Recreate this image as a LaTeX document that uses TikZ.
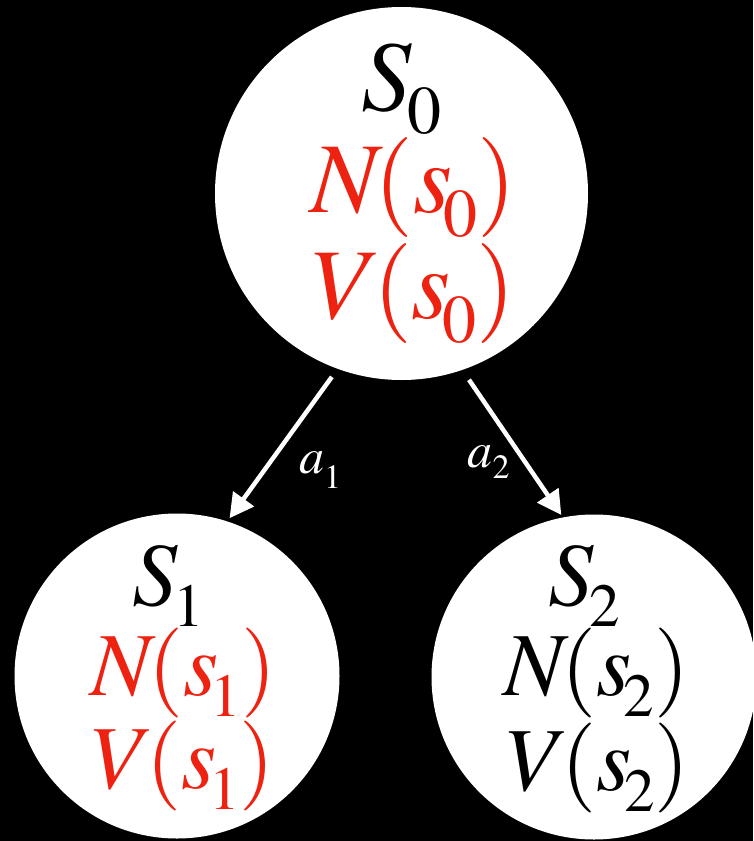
\documentclass[tikz,border=0pt]{standalone}
\usepackage{mathptmx}
\usetikzlibrary{arrows.meta}
\definecolor{kred}{RGB}{238,34,17}
\newcommand\subx[2][0.24]{\raisebox{-#1em}[0pt][0pt]{\scalebox{0.68}{$#2$}}}
\begin{document}
\begin{tikzpicture}[x=1pt,y=-1pt,
  state/.style={circle,fill=white,draw=none,inner sep=0pt,outer sep=0pt},
  big/.style={anchor=base,inner sep=0pt,font=\fontsize{100}{104}\selectfont},
  mid/.style={anchor=base,inner sep=0pt,font=\fontsize{90}{94}\selectfont},
  lab/.style={anchor=base,inner sep=0pt,text=white,font=\fontsize{50}{52}\selectfont},
  edge/.style={draw=white,line width=4.5pt,-{Triangle[length=24pt,width=25pt]}}]
\fill[black] (0,0) rectangle (753,841);
\useasboundingbox (0,0) rectangle (753,841);
% circles
\node[state,minimum size=373pt] (s0) at (401.5,193.5) {};
\node[state,minimum size=325pt] (s1) at (177,676) {};
\node[state,minimum size=325pt] (s2) at (594,677) {};
% top texts
\node[big] (t0a) at (401.5,110) {$S\mkern-1mu$\subx[0.23]{0}};
\node[big,text=kred] (t0b) at (413.5,212) {$N\mkern-1.5mu(s\mkern-1.5mu$\subx{0}$)$};
\node[big,text=kred] (t0c) at (414,318) {$V\mkern-1.5mu(s\mkern-1.5mu$\subx{0}$)$};
% left texts
\node[mid] (t1a) at (168.5,605) {$S\mkern-1mu$\subx[0.24]{1}};
\node[mid,text=kred] (t1b) at (183.5,695) {$N\mkern-1.5mu(s\mkern-1.5mu$\subx{1}$)$};
\node[mid,text=kred] (t1c) at (183.5,788) {$V\mkern-1.5mu(s\mkern-1.5mu$\subx{1}$)$};
% right texts
\node[mid] (t2a) at (584,605) {$S\mkern-1mu$\subx[0.24]{2}};
\node[mid] (t2b) at (596.5,695) {$N\mkern-1.5mu(s\mkern-1.5mu$\subx{2}$)$};
\node[mid] (t2c) at (598.5,790) {$V\mkern-1.5mu(s\mkern-1.5mu$\subx{2}$)$};
% arrows
\draw[edge,shorten <=10pt,shorten >=4pt] (s0.250) -- (s1.72);
\draw[edge,shorten <=12pt,shorten >=3pt] (s0.289) -- (s2.101);
% labels
\node[lab] (l1) at (320,473) {$a$\subx[0.3]{1}};
\node[lab] (l2) at (488.5,467) {$a$\subx[0.22]{2}};
\end{tikzpicture}
\end{document}
